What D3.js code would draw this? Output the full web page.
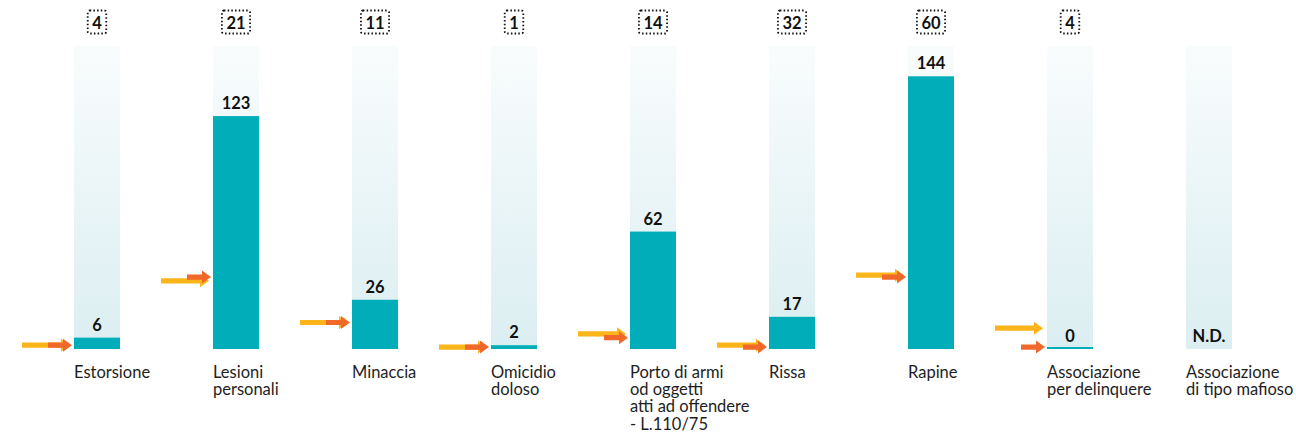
<!DOCTYPE html>
<html>
<head>
<meta charset="utf-8">
<script src="https://cdn.jsdelivr.net/npm/d3@7"></script>
<style>
  html, body { margin: 0; padding: 0; background: #ffffff; }
  svg { display: block; font-family: Lato, "Open Sans", sans-serif; }
</style>
</head>
<body>
<svg id="chart" width="1296" height="437"></svg>
<script>
// ---- data ----
const categories = [
  ["Estorsione"],
  ["Lesioni", "personali"],
  ["Minaccia"],
  ["Omicidio", "doloso"],
  ["Porto di armi", "od oggetti", "atti ad offendere", "- L.110/75"],
  ["Rissa"],
  ["Rapine"],
  ["Associazione", "per delinquere"],
  ["Associazione", "di tipo mafioso"]
];
const barValues = [6, 123, 26, 2, 62, 17, 144, 0, null];
const topCounts = [4, 21, 11, 1, 14, 32, 60, 4, null];
const yellowArrow = [2, 36, 14, 1, 8, 2, 39, 11, null];
const orangeArrow = [2, 38, 14, 1, 6, 1, 38, 1, null];
const maxValue = 160;

// ---- layout ----
const svg = d3.select("#chart");
const keys = categories.map((c, i) => i);
const x = d3.scaleBand().domain(keys).range([74, 1232]).paddingInner(0.669).paddingOuter(0);
const y = d3.scaleLinear().domain([0, maxValue]).range([349, 46]);
const bw = x.bandwidth();

const teal = "#00adb9";
const yellow = "#fcb41b";
const orange = "#f1682b";

const defs = svg.append("defs");
const grad = defs.append("linearGradient").attr("id", "bgGrad")
  .attr("x1", 0).attr("y1", 0).attr("x2", 0).attr("y2", 1);
grad.append("stop").attr("offset", "0%").attr("stop-color", "#f9fcfd");
grad.append("stop").attr("offset", "100%").attr("stop-color", "#dbeef1");

const g = svg.selectAll("g.cat").data(keys).join("g").attr("class", "cat");

// background bars
g.append("rect")
  .attr("x", i => x(i)).attr("y", y(maxValue))
  .attr("width", bw).attr("height", y(0) - y(maxValue))
  .attr("fill", "url(#bgGrad)");

// value bars
g.filter(i => barValues[i] !== null).append("rect")
  .attr("x", i => x(i))
  .attr("y", i => Math.min(y(barValues[i]), y(0) - 2))
  .attr("width", bw)
  .attr("height", i => Math.max(y(0) - y(barValues[i]), 2))
  .attr("fill", teal);

// value labels
g.append("text")
  .attr("x", i => x(i) + bw / 2)
  .attr("y", i => y(barValues[i] === null ? 0 : barValues[i]) - 7)
  .attr("text-anchor", "middle")
  .attr("font-size", 16.5).attr("font-weight", 700).attr("fill", "#111")
  .text(i => barValues[i] === null ? "N.D." : barValues[i]);

// arrows
function arrowPath(x0, tip, yc) {
  const sh = 2.6, hh = 6.5, hl = 9;
  return `M${x0},${yc - sh}L${tip - hl},${yc - sh}L${tip - hl},${yc - hh}L${tip},${yc}L${tip - hl},${yc + hh}L${tip - hl},${yc + sh}L${x0},${yc + sh}Z`;
}
g.filter(i => yellowArrow[i] !== null).append("path")
  .attr("d", i => arrowPath(x(i) - 52, x(i) - 4, y(yellowArrow[i])))
  .attr("fill", yellow);
g.filter(i => orangeArrow[i] !== null).append("path")
  .attr("d", i => arrowPath(x(i) - 26, x(i) - 2, y(orangeArrow[i])))
  .attr("fill", orange);

// category labels
g.append("text")
  .attr("font-size", 16.5).attr("fill", "#1e1e1e")
  .each(function(i) {
    const t = d3.select(this);
    categories[i].forEach((line, k) => {
      t.append("tspan").attr("x", x(i)).attr("y", 378 + k * 17.2).text(line);
    });
  });

// top counts with dotted boxes
const tops = g.filter(i => topCounts[i] !== null);
tops.each(function(i) {
  const gg = d3.select(this);
  const cx = x(i) + bw / 2;
  const txt = gg.append("text")
    .attr("x", cx).attr("y", 28.5)
    .attr("text-anchor", "middle")
    .attr("font-size", 16.5).attr("font-weight", 700).attr("fill", "#111")
    .text(topCounts[i]);
  const w = txt.node().getComputedTextLength() + 9;
  gg.insert("rect", "text")
    .attr("x", cx - w / 2).attr("y", 10.5)
    .attr("width", w).attr("height", 23)
    .attr("rx", 2)
    .attr("fill", "none").attr("stroke", "#111")
    .attr("stroke-width", 1.8).attr("stroke-dasharray", "1.5,2.2");
});
</script>
</body>
</html>
